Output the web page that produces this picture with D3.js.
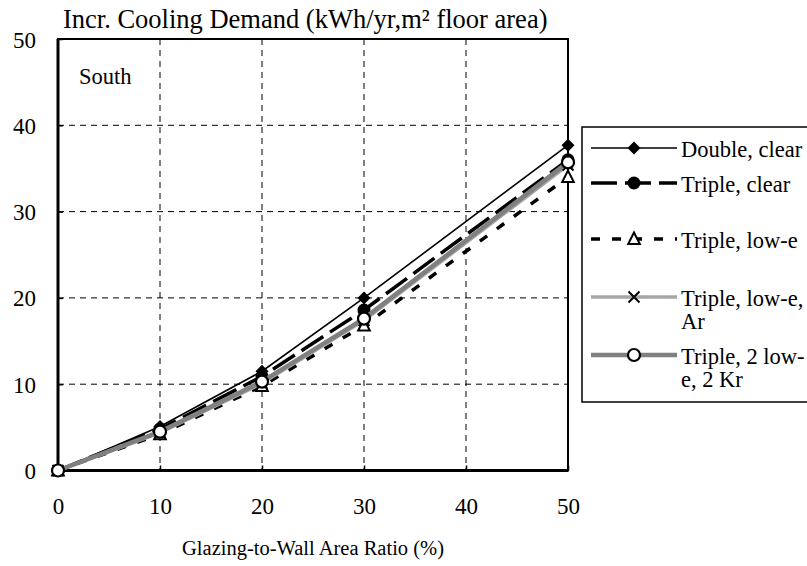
<!DOCTYPE html>
<html><head><meta charset="utf-8">
<script src="https://cdn.jsdelivr.net/npm/d3@7"></script>
<style>body{margin:0;background:#fff}svg{display:block}text{font-family:"Liberation Serif","Times New Roman",serif;fill:#000}</style>
</head><body>
<svg id="c" width="807" height="566"></svg>
<script>
const xValues = [0, 10, 20, 30, 50];
const doubleClear = [0, 5.1, 11.5, 20.0, 37.7];
const tripleClear = [0, 4.8, 10.9, 18.6, 36.0];
const tripleLowE = [0, 4.2, 9.8, 16.8, 34.0];
const tripleLowEAr = [0, 4.4, 10.1, 17.4, 35.4];
const triple2LowE2Kr = [0, 4.5, 10.3, 17.6, 35.7];
const xTicks = [0, 10, 20, 30, 40, 50];
const yTicks = [0, 10, 20, 30, 40, 50];
const seriesNames = [["Double, clear"], ["Triple, clear"], ["Triple, low-e"], ["Triple, low-e,", "Ar"], ["Triple, 2 low-", "e, 2 Kr"]];

const svg = d3.select("#c");
const L = 58, R = 568, T = 39, B = 470.5;
const x = d3.scaleLinear().domain([0, 50]).range([L, R]);
const y = d3.scaleLinear().domain([0, 50]).range([B, T]);

// grid
const g = svg.append("g");
g.selectAll(".vg").data(xTicks.filter(d => d > 0 && d < 50)).join("line")
  .attr("x1", d => x(d)).attr("x2", d => x(d)).attr("y1", T).attr("y2", B)
  .attr("stroke", "#000").attr("stroke-width", 1).attr("stroke-dasharray", "6,5");
g.selectAll(".hg").data(yTicks.filter(d => d > 0 && d < 50)).join("line")
  .attr("y1", d => y(d)).attr("y2", d => y(d)).attr("x1", L).attr("x2", R)
  .attr("stroke", "#000").attr("stroke-width", 1).attr("stroke-dasharray", "6,5");

// axes
const xAxis = d3.axisBottom(x).tickValues(xTicks).tickSize(-5).tickPadding(27).tickFormat(d3.format("d"));
const yAxis = d3.axisLeft(y).tickValues(yTicks).tickSize(-5).tickPadding(22).tickFormat(d3.format("d"));
const gx = svg.append("g").attr("transform", `translate(0,${B})`).call(xAxis);
const gy = svg.append("g").attr("transform", `translate(${L},0)`).call(yAxis);
[gx, gy].forEach(a => {
  a.attr("font-family", null);
  a.select(".domain").remove();
  a.selectAll(".tick line").attr("stroke", "#000").attr("stroke-width", 1.5);
  a.selectAll("text").style("font-size", "23px").style("font-family", '"Liberation Serif",serif');
});
gy.selectAll("text").attr("dy", "0.35em");

// frame
svg.append("rect").attr("x", L).attr("y", T).attr("width", R - L).attr("height", B - T)
  .attr("fill", "none").attr("stroke", "#000").attr("stroke-width", 2);
svg.append("line").attr("x1", L).attr("x2", L).attr("y1", T).attr("y2", B).attr("stroke", "#000").attr("stroke-width", 3);
svg.append("line").attr("x1", L).attr("x2", R).attr("y1", B).attr("y2", B).attr("stroke", "#000").attr("stroke-width", 3);

const styles = [
  {data: doubleClear, stroke: "#000", w: 1.6, dash: null, marker: "diamond"},
  {data: tripleClear, stroke: "#000", w: 3.5, dash: "26,8", marker: "dot"},
  {data: tripleLowE, stroke: "#000", w: 3.5, dash: "9,12", marker: "triangle"},
  {data: tripleLowEAr, stroke: "#a6a6a6", w: 3.5, dash: null, marker: "cross"},
  {data: triple2LowE2Kr, stroke: "#808080", w: 4.5, dash: null, marker: "circle"}
];

function drawMarker(sel, type) {
  if (type === "diamond") {
    sel.append("path").attr("d", "M0,-6.5L6.5,0L0,6.5L-6.5,0Z").attr("fill", "#000");
  } else if (type === "dot") {
    sel.append("circle").attr("r", 6.5).attr("fill", "#000");
  } else if (type === "triangle") {
    sel.append("path").attr("d", "M0,-6.5L5.8,5L-5.8,5Z").attr("fill", "#fff").attr("stroke", "#000").attr("stroke-width", 2);
  } else if (type === "cross") {
    sel.append("path").attr("d", "M-5.5,-5.5L5.5,5.5M-5.5,5.5L5.5,-5.5").attr("stroke", "#000").attr("stroke-width", 2).attr("fill", "none");
  } else if (type === "circle") {
    sel.append("circle").attr("r", 6).attr("fill", "#fff").attr("stroke", "#000").attr("stroke-width", 2.2);
  }
}

const line = d3.line().x((d, i) => x(xValues[i])).y(d => y(d));
styles.forEach(s => {
  svg.append("path").datum(s.data).attr("d", line).attr("fill", "none")
    .attr("stroke", s.stroke).attr("stroke-width", s.w).attr("stroke-dasharray", s.dash);
  s.data.forEach((v, i) => {
    const m = svg.append("g").attr("transform", `translate(${x(xValues[i])},${y(v)})`);
    drawMarker(m, s.marker);
  });
});

// titles
svg.append("text").attr("x", 63).attr("y", 28).style("font-size", "26.5px").text("Incr. Cooling Demand (kWh/yr,m² floor area)");
svg.append("text").attr("x", 79).attr("y", 84).style("font-size", "22.5px").text("South");
svg.append("text").attr("x", 313).attr("y", 555).attr("text-anchor", "middle").style("font-size", "20.5px").text("Glazing-to-Wall Area Ratio (%)");

// legend
const lg = svg.append("g");
lg.append("rect").attr("x", 582).attr("y", 127).attr("width", 240).attr("height", 275)
  .attr("fill", "#fff").attr("stroke", "#000").attr("stroke-width", 1.5);
const rowY = [148, 183, 239, 297, 355];
styles.forEach((s, i) => {
  const yy = rowY[i];
  lg.append("line").attr("x1", 591).attr("x2", 677).attr("y1", yy).attr("y2", yy)
    .attr("stroke", s.stroke).attr("stroke-width", s.w).attr("stroke-dasharray", s.dash);
  drawMarker(lg.append("g").attr("transform", `translate(634,${yy})`), s.marker);
  seriesNames[i].forEach((t, j) => {
    lg.append("text").attr("x", 681).attr("y", yy + 1 + j * 23).attr("dy", "0.35em").style("font-size", "22.5px").text(t);
  });
});
</script>
</body></html>
